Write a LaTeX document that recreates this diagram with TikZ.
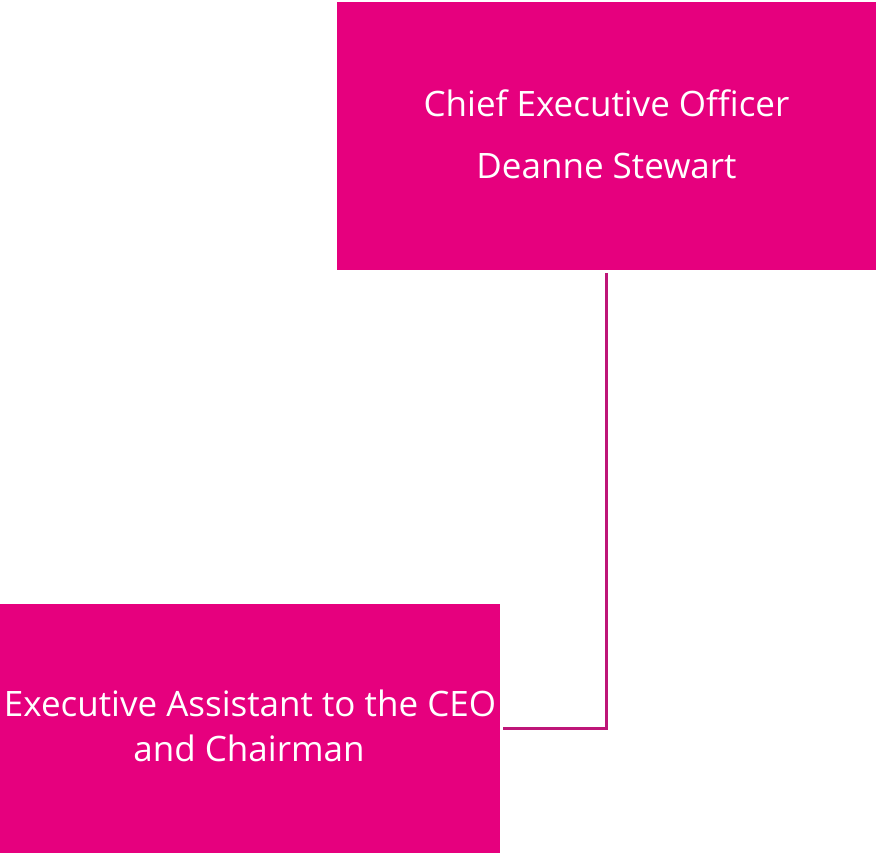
\documentclass[tikz,border=0pt]{standalone}
\usepackage{fontspec}
\setmainfont{Open Sans}
\definecolor{boxpink}{HTML}{E6007E}
\definecolor{linepink}{RGB}{190,22,120}
\tikzset{
  orgbox/.style={draw=none, fill=boxpink, inner sep=0pt, anchor=south west},
  orgtext/.style={text=white, inner sep=0pt, anchor=base, font=\fontsize{35}{42}\selectfont},
  orgline/.style={draw=linepink, line width=2.8pt}
}
\begin{document}
\begin{tikzpicture}[x=1pt,y=1pt]
\useasboundingbox (0,0) rectangle (876,853);
\node[orgbox, minimum width=539pt, minimum height=268pt] (ceo) at (337,583) {};
\node[orgbox, minimum width=500pt, minimum height=249pt] (ea) at (0,0) {};
\node[orgtext] (ceo1) at (606.5,736) {Chief Executive Officer};
\node[orgtext] (ceo2) at (606.5,674) {Deanne Stewart};
\node[orgtext] (ea1) at (250,136) {Executive Assistant to the CEO};
\node[orgtext] (ea2) at (249,91) {and Chairman};
\draw[orgline] ([yshift=-3pt]ceo.south) |- ([xshift=3pt]ea.east);
\end{tikzpicture}
\end{document}
